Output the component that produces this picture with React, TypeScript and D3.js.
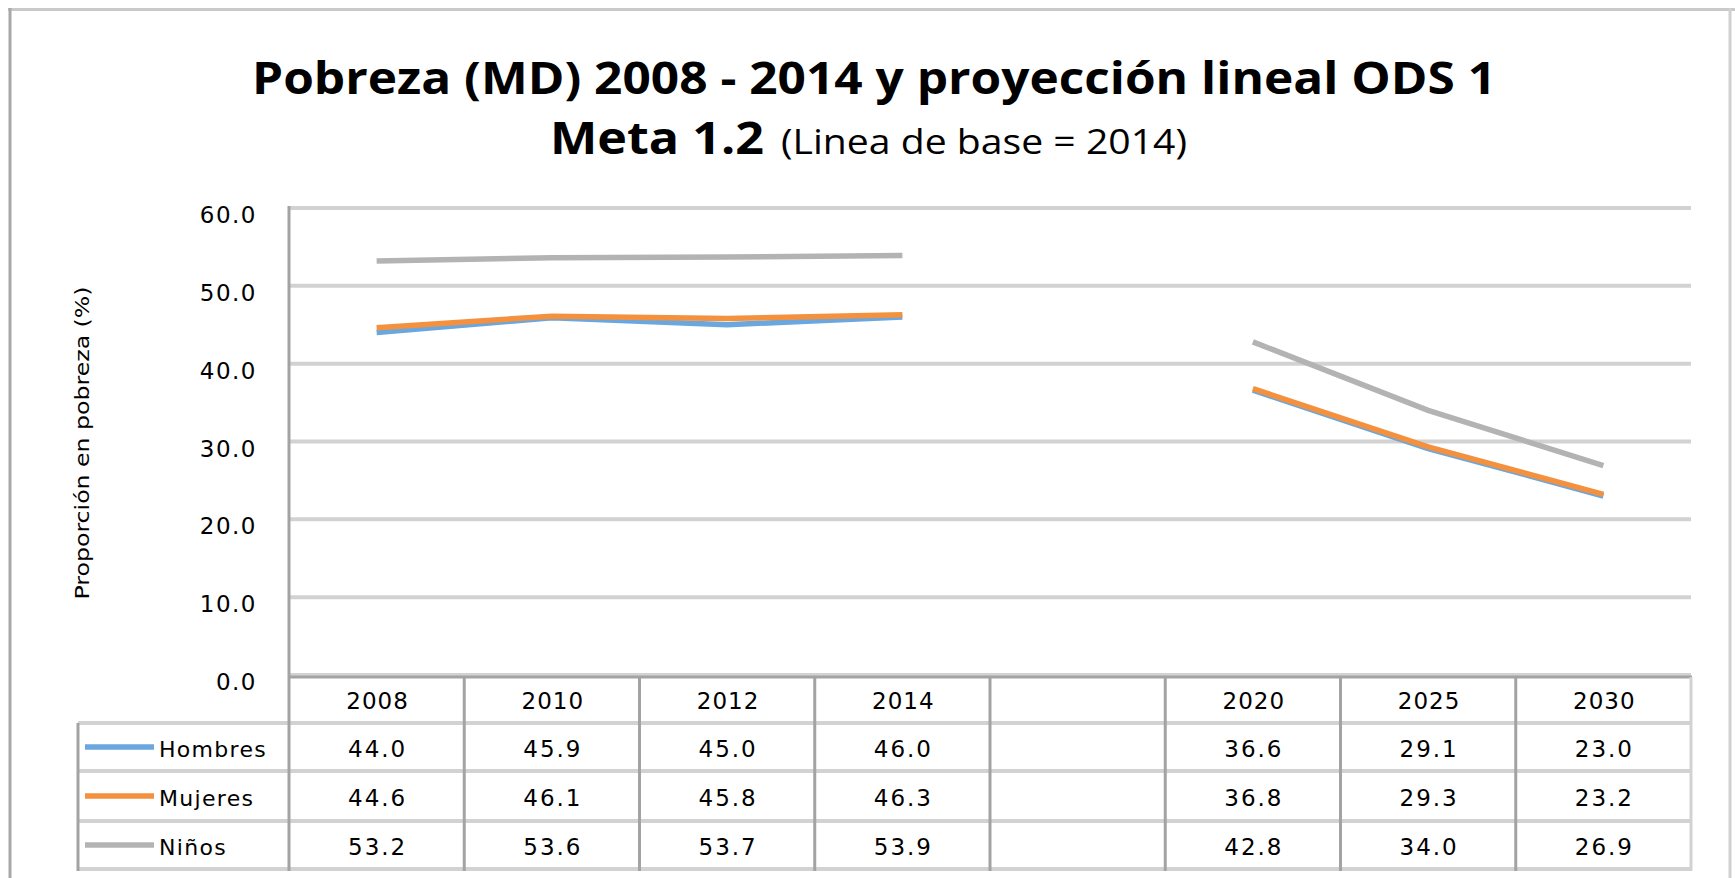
import React, { useEffect, useRef } from 'react'
import * as d3 from 'd3'

const WIDTH = 1735
const HEIGHT = 878

const years = ['2008', '2010', '2012', '2014', '', '2020', '2025', '2030']
const hombres = [44.0, 45.9, 45.0, 46.0, null, 36.6, 29.1, 23.0]
const mujeres = [44.6, 46.1, 45.8, 46.3, null, 36.8, 29.3, 23.2]
const ninos = [53.2, 53.6, 53.7, 53.9, null, 42.8, 34.0, 26.9]
const yTicks = [0, 10, 20, 30, 40, 50, 60]

const series = [
  { name: 'Hombres', values: hombres, color: '#69a7de' },
  { name: 'Mujeres', values: mujeres, color: '#f4913f' },
  { name: 'Niños', values: ninos, color: '#b3b3b3' },
]

const FONT = '"DejaVu Sans", Verdana, sans-serif'
const TITLE_FONT = '"Open Sans", "Noto Sans", sans-serif'
const GRID = '#d2d2d2'
const DARK = '#a3a3a3'

export default function App() {
  const svgRef = useRef<SVGSVGElement | null>(null)

  useEffect(() => {
    const svg = d3.select(svgRef.current)
    svg.selectAll('*').remove()

    const plotLeft = 289
    const plotRight = 1691
    const x = d3.scaleBand<string>()
      .domain(years.map((d, i) => i + ''))
      .range([plotLeft, plotRight])
      .paddingInner(0)
    const y = d3.scaleLinear().domain([0, 60]).range([675, 208])
    const cx = (i: number) => (x(i + '') as number) + x.bandwidth() / 2

    const rowTop = 677
    const rowLines = [723, 771, 821, 869]
    const rowCenters = [747, 796, 845]

    // outer frame
    svg.append('line').attr('x1', 8).attr('x2', WIDTH).attr('y1', 9.5).attr('y2', 9.5)
      .attr('stroke', '#c9c9c9').attr('stroke-width', 3)
    svg.append('line').attr('x1', 10).attr('x2', 10).attr('y1', 8).attr('y2', HEIGHT)
      .attr('stroke', '#a8a8a8').attr('stroke-width', 3)
    svg.append('line').attr('x1', 1730).attr('x2', 1730).attr('y1', 8).attr('y2', HEIGHT)
      .attr('stroke', '#d0d0d0').attr('stroke-width', 3)

    // title
    svg.append('text')
      .attr('x', 252).attr('y', 94)
      .attr('font-family', TITLE_FONT).attr('font-weight', 'bold').attr('font-size', 44)
      .attr('textLength', 1244).attr('lengthAdjust', 'spacingAndGlyphs')
      .attr('fill', '#000')
      .text('Pobreza (MD) 2008 - 2014 y proyección lineal ODS 1')
    svg.append('text')
      .attr('x', 550).attr('y', 154)
      .attr('font-family', TITLE_FONT).attr('font-weight', 'bold').attr('font-size', 44)
      .attr('textLength', 214).attr('lengthAdjust', 'spacingAndGlyphs')
      .attr('fill', '#000')
      .text('Meta 1.2')
    svg.append('text')
      .attr('x', 781).attr('y', 154)
      .attr('font-family', TITLE_FONT).attr('font-size', 34)
      .attr('textLength', 406).attr('lengthAdjust', 'spacingAndGlyphs')
      .attr('fill', '#000')
      .text('(Linea de base = 2014)')

    // gridlines
    svg.append('g').selectAll('line')
      .data(yTicks)
      .enter()
      .append('line')
      .attr('x1', plotLeft).attr('x2', plotRight)
      .attr('y1', d => y(d)).attr('y2', d => y(d))
      .attr('stroke', GRID).attr('stroke-width', 4)

    // y tick labels
    svg.append('g').selectAll('text')
      .data(yTicks)
      .enter()
      .append('text')
      .attr('x', 257).attr('y', d => y(d) + 7)
      .attr('dy', '0.35em')
      .attr('text-anchor', 'end')
      .attr('font-family', FONT).attr('font-size', 23)
      .attr('letter-spacing', 1.5)
      .attr('fill', '#000')
      .text(d => d.toFixed(1))

    // y axis title
    svg.append('text')
      .attr('transform', 'translate(82,443) rotate(-90)')
      .attr('text-anchor', 'middle')
      .attr('dy', '0.35em')
      .attr('font-family', FONT).attr('font-size', 20)
      .attr('textLength', 313).attr('lengthAdjust', 'spacingAndGlyphs')
      .attr('fill', '#000')
      .text('Proporción en pobreza (%)')

    // data lines
    const lineGen = d3.line<number | null>()
      .defined(d => d != null)
      .x((d, i) => cx(i))
      .y(d => y(d as number))

    svg.append('g').selectAll('path')
      .data(series)
      .enter()
      .append('path')
      .attr('d', d => lineGen(d.values))
      .attr('fill', 'none')
      .attr('stroke', d => d.color)
      .attr('stroke-width', 5.5)
      .attr('stroke-linecap', 'butt')

    // data table: horizontal lines
    svg.append('g').selectAll('line')
      .data(rowLines)
      .enter()
      .append('line')
      .attr('x1', 78).attr('x2', plotRight)
      .attr('y1', d => d).attr('y2', d => d)
      .attr('stroke', GRID).attr('stroke-width', 4)

    // axis line under plot
    svg.append('line')
      .attr('x1', plotLeft).attr('x2', plotRight + 1)
      .attr('y1', rowTop).attr('y2', rowTop)
      .attr('stroke', DARK).attr('stroke-width', 3)

    // vertical lines of table + y axis
    const boundaries = years.map((d, i) => x(i + '') as number)
    svg.append('g').selectAll('line')
      .data(boundaries)
      .enter()
      .append('line')
      .attr('x1', d => d).attr('x2', d => d)
      .attr('y1', (d, i) => (i === 0 ? 206 : rowTop)).attr('y2', 871)
      .attr('stroke', DARK).attr('stroke-width', 3)
    svg.append('line')
      .attr('x1', plotRight).attr('x2', plotRight)
      .attr('y1', rowTop).attr('y2', 871)
      .attr('stroke', GRID).attr('stroke-width', 3)
    svg.append('line')
      .attr('x1', 78).attr('x2', 78)
      .attr('y1', rowLines[0]).attr('y2', 871)
      .attr('stroke', DARK).attr('stroke-width', 3)

    // header years
    svg.append('g').selectAll('text')
      .data(years)
      .enter()
      .append('text')
      .attr('x', (d, i) => cx(i) + 1)
      .attr('y', 701)
      .attr('dy', '0.35em')
      .attr('text-anchor', 'middle')
      .attr('font-family', FONT).attr('font-size', 23)
      .attr('letter-spacing', 1)
      .attr('fill', '#000')
      .text(d => d)

    // rows: legend keys + values
    const rows = svg.append('g').selectAll('g')
      .data(series)
      .enter()
      .append('g')
      .attr('transform', (d, i) => `translate(0,${rowCenters[i]})`)

    rows.append('line')
      .attr('x1', 85).attr('x2', 154)
      .attr('y1', 0).attr('y2', 0)
      .attr('stroke', d => d.color).attr('stroke-width', 5.5)

    rows.append('text')
      .attr('x', 159).attr('y', 2)
      .attr('dy', '0.35em')
      .attr('font-family', FONT).attr('font-size', 22)
      .attr('letter-spacing', 1.3)
      .attr('fill', '#000')
      .text(d => d.name)

    rows.selectAll('text.val')
      .data(d => d.values.map((v, i) => ({ v, i })))
      .enter()
      .append('text')
      .attr('class', 'val')
      .attr('x', d => cx(d.i) + 1)
      .attr('y', 2)
      .attr('dy', '0.35em')
      .attr('text-anchor', 'middle')
      .attr('font-family', FONT).attr('font-size', 23)
      .attr('letter-spacing', 2)
      .attr('fill', '#000')
      .text(d => (d.v == null ? '' : d.v.toFixed(1)))
  }, [])

  return (
    <svg
      ref={svgRef}
      width={WIDTH}
      height={HEIGHT}
      style={{ position: 'absolute', left: 0, top: 0, background: '#fff', display: 'block' }}
    />
  )
}
